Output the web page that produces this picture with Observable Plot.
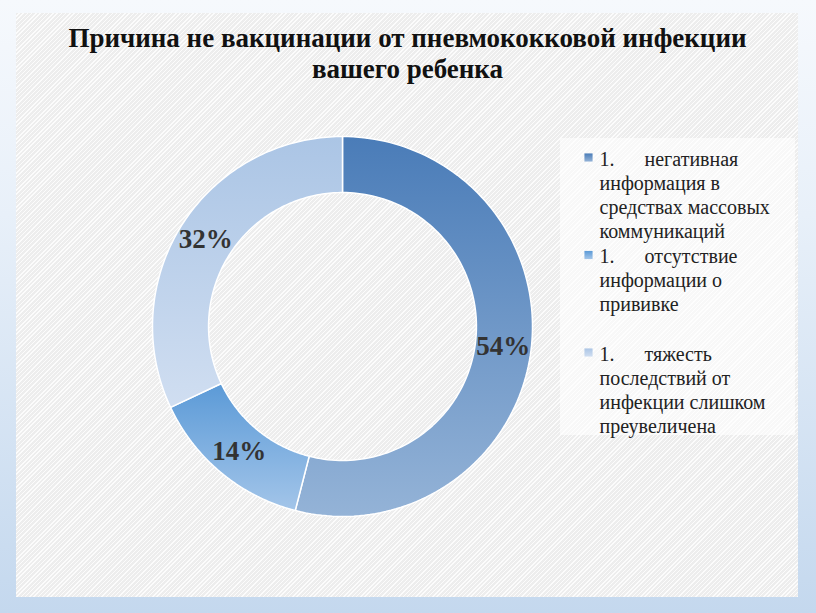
<!DOCTYPE html>
<html><head><meta charset="utf-8">
<script src="https://cdn.jsdelivr.net/npm/d3@7"></script>
<script src="https://cdn.jsdelivr.net/npm/@observablehq/plot@0.6"></script>
<style>
html,body{margin:0;padding:0;}
body{width:816px;height:613px;position:relative;overflow:hidden;
 background:linear-gradient(180deg,#f6f9fd 0%,#e8f0f9 35%,#c4d8ee 100%);}
#bgpanelx{position:absolute;left:16px;top:13px;width:782px;height:584px;background-color:#f2f2f2;
 background-image:repeating-linear-gradient(-45deg, rgba(255,255,255,0.75) 0px, rgba(255,255,255,0.75) 1px, rgba(0,0,0,0.02) 1px, rgba(0,0,0,0.02) 3px);}
#hdrx{position:absolute;left:16px;top:13px;}
#donutx{position:absolute;left:148px;top:132px;}
#keyx{position:absolute;left:560px;top:138px;width:235px;height:297px;background:rgba(255,255,255,0.6);}
</style></head>
<body>
<div id="bgpanelx"></div>
<div id="hdrx"></div>
<div id="donutx"></div>
<div id="keyx"></div>
<script>
const titleLines = ["Причина не вакцинации от пневмококковой инфекции", "вашего ребенка"];
const values = [54, 14, 32];
const valueLabels = ["54%", "14%", "32%"];
const labelNumbers = ["1.", "1.", "1."];
const labelLines = [
  ["негативная", "информация в", "средствах массовых", "коммуникаций"],
  ["отсутствие", "информации о", "прививке"],
  ["тяжесть", "последствий от", "инфекции слишком", "преувеличена"]
];
const colorTop = ["#4a7cb8", "#5b9ad7", "#abc5e5"];
const colorBottom = ["#94b3d7", "#a3c5e9", "#d0def1"];
const serifFont = "'Liberation Serif', 'Times New Roman', serif";
const transparent = {background: "transparent", overflow: "visible", display: "block"};

// Title
const titlePlot = Plot.plot({
  width: 782, height: 80, margin: 0,
  style: transparent,
  marks: [
    Plot.text([titleLines.join("\n")], {frameAnchor: "top", lineAnchor: "top", dy: 11, fontSize: 27, lineHeight: 31 / 27,
      fontWeight: "bold", fontFamily: serifFont, fill: "#111"})
  ]
});
document.getElementById("hdrx").appendChild(titlePlot);

// Donut
const outerR = 1, innerR = 0.705;
const arcs = d3.pie().sort(null).startAngle(0).endAngle(2 * Math.PI)(values);
const slices = arcs.map((a) => {
  const pts = [];
  const n = 120;
  for (let k = 0; k <= n; k++) {
    const t = a.startAngle + (a.endAngle - a.startAngle) * k / n;
    pts.push({x: outerR * Math.sin(t), y: outerR * Math.cos(t)});
  }
  for (let k = n; k >= 0; k--) {
    const t = a.startAngle + (a.endAngle - a.startAngle) * k / n;
    pts.push({x: innerR * Math.sin(t), y: innerR * Math.cos(t)});
  }
  pts.push(pts[0]);
  return pts;
});
const labelData = arcs.map((a, i) => {
  const m = (a.startAngle + a.endAngle) / 2, r = (outerR + innerR) / 2;
  return {x: r * Math.sin(m), y: r * Math.cos(m), label: valueLabels[i]};
});

const svg = Plot.plot({
  width: 388, height: 388, margin: 4,
  x: {domain: [-1, 1], axis: null},
  y: {domain: [-1, 1], axis: null},
  style: transparent,
  marks: [
    ...slices.map((pts, i) => Plot.line(pts, {x: "x", y: "y", fill: `url(#grad${i})`, stroke: "white", strokeWidth: 1.5, strokeLinejoin: "round"})),
    Plot.text(labelData, {x: "x", y: "y", text: "label", fontSize: 27, fontWeight: "bold", fontFamily: serifFont, fill: "#333"})
  ]
});
const ns = "http://www.w3.org/2000/svg";
const defs = document.createElementNS(ns, "defs");
values.forEach((v, i) => {
  const g = document.createElementNS(ns, "linearGradient");
  g.setAttribute("id", "grad" + i);
  g.setAttribute("x1", "0"); g.setAttribute("y1", "0"); g.setAttribute("x2", "0"); g.setAttribute("y2", "1");
  [[0, colorTop[i]], [1, colorBottom[i]]].forEach(([o, c]) => {
    const s = document.createElementNS(ns, "stop");
    s.setAttribute("offset", o); s.setAttribute("stop-color", c);
    g.appendChild(s);
  });
  defs.appendChild(g);
});
svg.insertBefore(defs, svg.firstChild);
document.getElementById("donutx").appendChild(svg);

// Legend
const entries = labelLines.map((lines, i) => ({i, text: labelNumbers[i] + "      " + lines.join("\n")}));
const legendPlot = Plot.plot({
  width: 235, height: 297, margin: 0,
  y: {domain: [0, 2], range: [10, 205], axis: null},
  style: transparent,
  marks: [
    ...entries.map((e) => Plot.dot([e], {y: "i", frameAnchor: "left", dx: 28, dy: 9, symbol: "square", r: 4.6,
      fill: `url(#grad${e.i})`, stroke: "none"})),
    Plot.text(entries, {y: "i", text: "text", frameAnchor: "left", dx: 39, textAnchor: "start", lineAnchor: "top",
      fontSize: 20, lineHeight: 24 / 20, fontFamily: serifFont, fill: "#222"})
  ]
});
document.getElementById("keyx").appendChild(legendPlot);
</script>
</body></html>
